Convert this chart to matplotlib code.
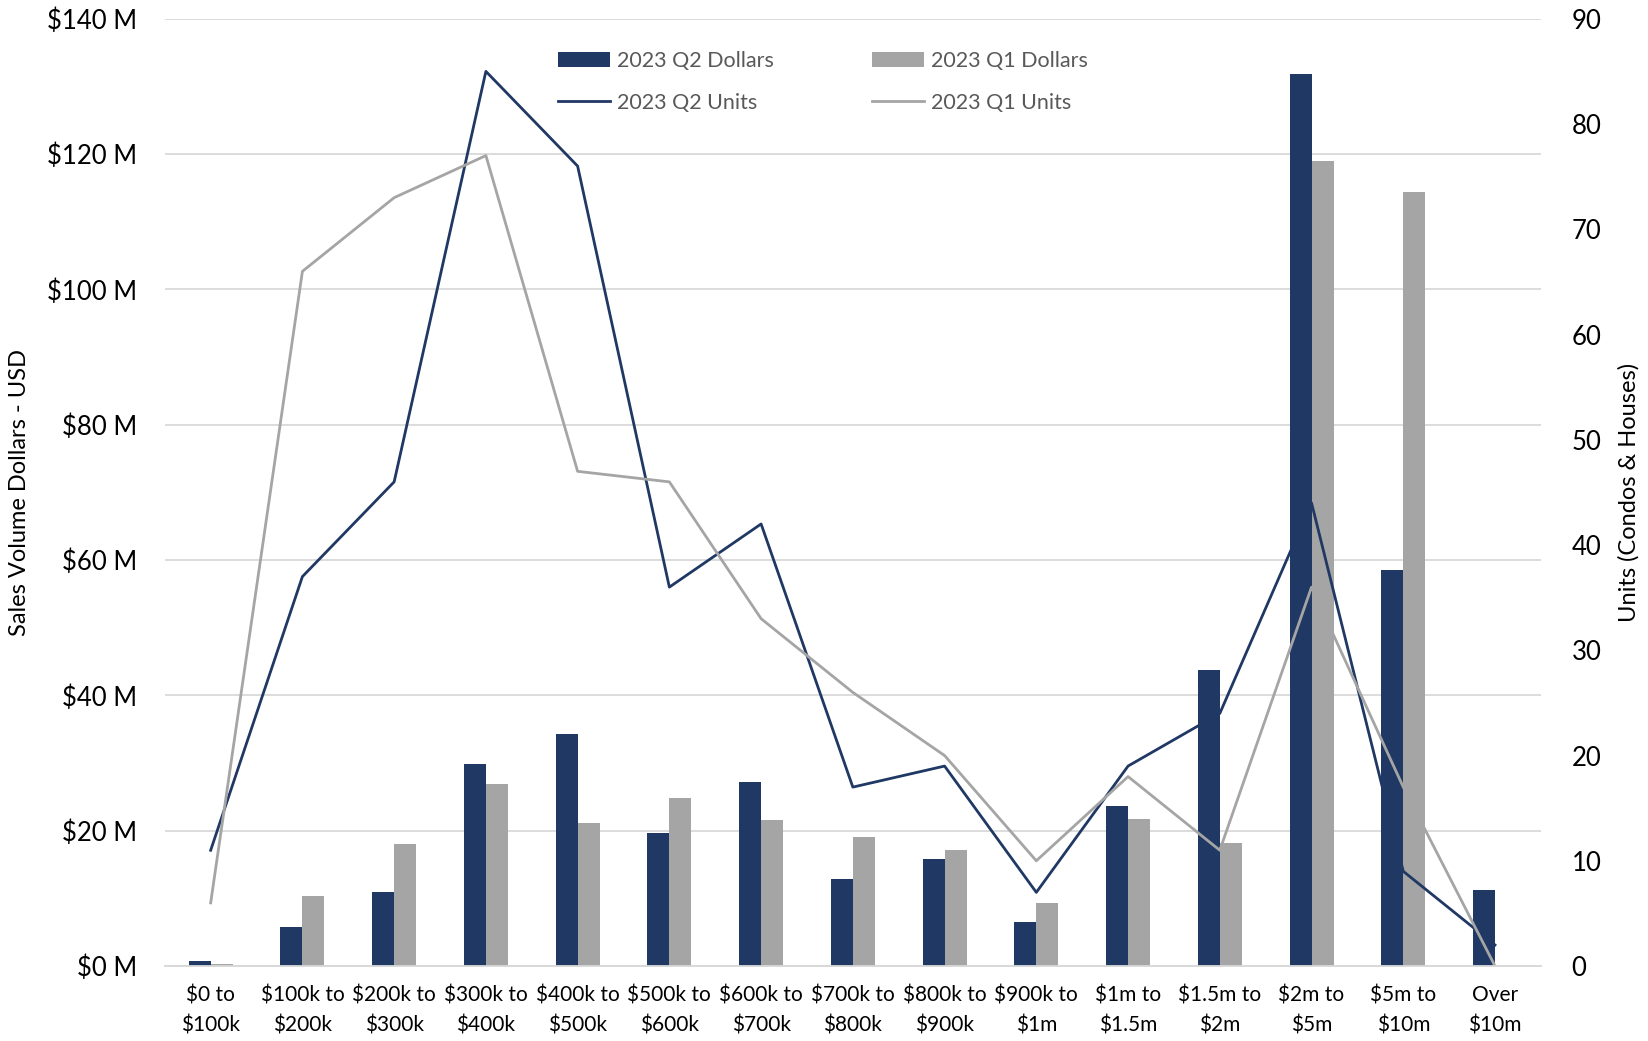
import matplotlib
matplotlib.use("Agg")
import matplotlib.pyplot as plt
import numpy as np
from matplotlib.ticker import FuncFormatter

plt.rcParams["font.family"] = ["Lato", "DejaVu Sans"]

categories = ["$0 to\n$100k", "$100k to\n$200k", "$200k to\n$300k", "$300k to\n$400k",
              "$400k to\n$500k", "$500k to\n$600k", "$600k to\n$700k", "$700k to\n$800k",
              "$800k to\n$900k", "$900k to\n$1m", "$1m to\n$1.5m", "$1.5m to\n$2m",
              "$2m to\n$5m", "$5m to\n$10m", "Over\n$10m"]
q2_dollars = [0.8, 5.8, 11.0, 29.8, 34.3, 19.6, 27.2, 12.9, 15.8, 6.5, 23.6, 43.7, 131.9, 58.6, 11.3]
q1_dollars = [0.3, 10.4, 18.0, 26.9, 21.1, 24.9, 21.6, 19.1, 17.1, 9.3, 21.8, 18.2, 119.0, 114.4, 0.0]
q2_units = [11, 37, 46, 85, 76, 36, 42, 17, 19, 7, 19, 24, 44, 9, 2]
q1_units = [6, 66, 73, 77, 47, 46, 33, 26, 20, 10, 18, 11, 36, 17, 0]

NAVY = "#203864"
GREY = "#A5A5A5"
TXT = "#000000"

x = np.arange(len(categories))
w = 0.24

fig = plt.figure(figsize=(16.48, 10.41), dpi=100)
ax = fig.add_axes([0.100, 0.072, 0.835, 0.910])
ax2 = ax.twinx()

b1 = ax.bar(x - w / 2, q2_dollars, w, color=NAVY, zorder=3)
b2 = ax.bar(x + w / 2, q1_dollars, w, color=GREY, zorder=3)
l1, = ax2.plot(x, q2_units, color=NAVY, lw=2.0)
l2, = ax2.plot(x, q1_units, color=GREY, lw=2.0)

ax.set_xlim(-0.5, len(categories) - 0.5)
ax.set_ylim(0, 140)
ax.set_yticks(np.arange(0, 141, 20))
ax.yaxis.set_major_formatter(FuncFormatter(lambda v, p: f"${v:.0f} M"))
ax2.set_ylim(0, 90)
ax2.set_yticks(np.arange(0, 91, 10))

ax.set_xticks(x)
ax.set_xticklabels(categories, fontsize=15, color=TXT, linespacing=1.6)
ax.tick_params(axis="y", labelsize=18.5, length=0, pad=20, colors=TXT)
ax.tick_params(axis="x", length=0, pad=14)
ax2.tick_params(axis="y", labelsize=18.5, length=0, pad=22, colors=TXT)

ax.grid(axis="y", color="#D9D9D9", lw=1.3, zorder=0)
for a in (ax, ax2):
    for s in ("top", "left", "right"):
        a.spines[s].set_visible(False)
    a.spines["bottom"].set_color("#D9D9D9")
    a.spines["bottom"].set_linewidth(1.3)

ax.set_ylabel("Sales Volume Dollars - USD", fontsize=17, color=TXT, labelpad=12)
ax2.set_ylabel("Units (Condos & Houses)", fontsize=17, color=TXT, labelpad=12)

leg = ax.legend([b1, l1, b2, l2],
                ["2023 Q2 Dollars", "2023 Q2 Units", "2023 Q1 Dollars", "2023 Q1 Units"],
                ncol=2, loc="upper left", bbox_to_anchor=(0.272, 0.986), frameon=False,
                fontsize=15.5, columnspacing=4.6, handlelength=2.4, handleheight=0.7,
                handletextpad=0.3, labelspacing=1.0)
for t in leg.get_texts():
    t.set_color("#595959")

fig.savefig("out.png", dpi=100)
